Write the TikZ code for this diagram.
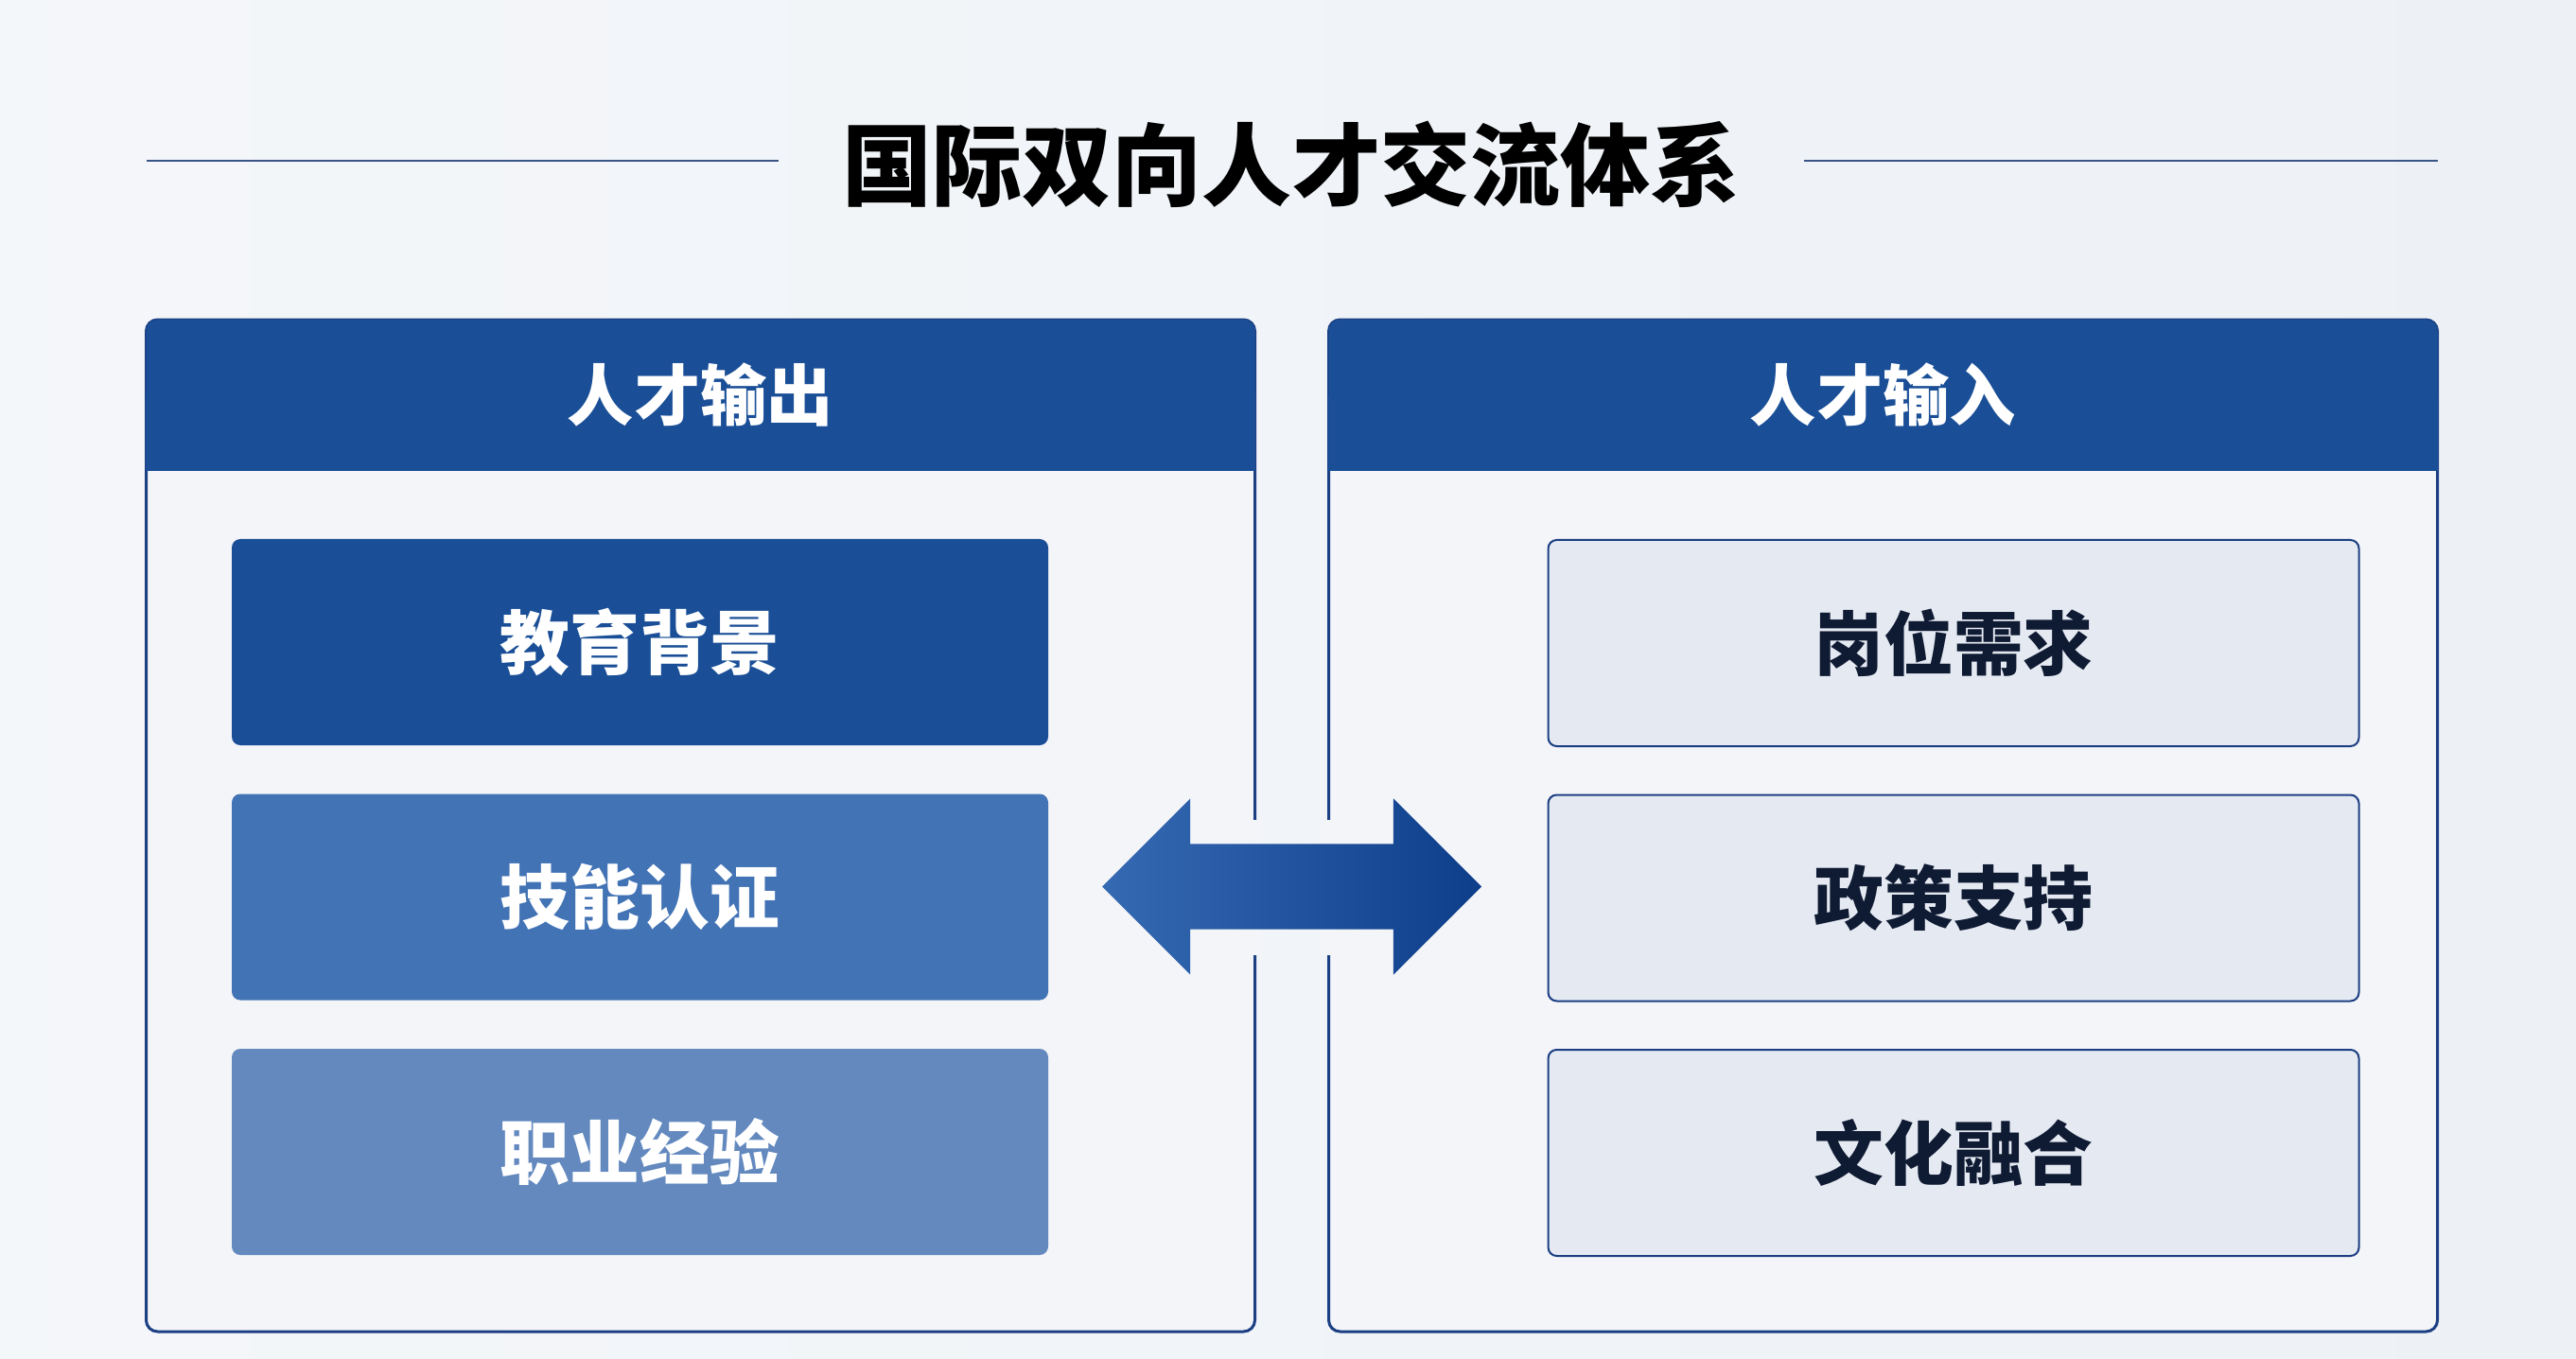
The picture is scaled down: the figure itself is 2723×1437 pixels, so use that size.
\documentclass[tikz,border=0pt]{standalone}
\usepackage{fontspec}
\setmainfont{Noto Sans CJK SC}
\usetikzlibrary{shapes.arrows}
\definecolor{bgc}{HTML}{EDF1F6}
\definecolor{card}{HTML}{F3F5F9}
\definecolor{navy}{HTML}{1A4F97}
\definecolor{edge}{HTML}{1C3F83}
\definecolor{midb}{HTML}{4273B5}
\definecolor{lightb}{HTML}{6389BF}
\definecolor{pale}{HTML}{E5EAF2}
\definecolor{ink}{HTML}{0F1A33}
\definecolor{rule}{HTML}{3A5587}
\definecolor{arrl}{HTML}{356AB2}
\definecolor{arrr}{HTML}{0E3E8A}

\begin{document}
\begin{tikzpicture}[x=0.1mm,y=-0.1mm,
    panel/.style={draw=edge,line width=0.3mm,fill=card,rounded corners=1.2mm,
      minimum width=117.2mm,minimum height=107mm,inner sep=0pt},
    headbar/.style={fill=navy,rounded corners=1.2mm,minimum width=117.2mm,
      minimum height=15.9mm,inner sep=0pt,text=white,
      font=\bfseries\fontsize{20}{24}\selectfont},
    outbox/.style={rounded corners=0.9mm,minimum width=86.3mm,minimum height=21.8mm,
      inner sep=0pt,text=white,font=\bfseries\fontsize{21}{25}\selectfont},
    inbox/.style={draw=edge,line width=0.2mm,fill=pale,rounded corners=0.9mm,
      minimum width=85.7mm,minimum height=21.8mm,inner sep=0pt,text=ink,
      font=\bfseries\fontsize{21}{25}\selectfont},
    ruleline/.style={draw=rule,line width=0.2mm}]
    % page and background
    \useasboundingbox (0,0) rectangle (2723,1437);
    \shade[left color=bgc!60!white,right color=bgc] (0,0) rectangle (2723,1437);
    % title with side rules
    \node[font=\bfseries\fontsize{27}{32}\selectfont,text=black] (title) at (1365,174)
      {国际双向人才交流体系};
    \draw[ruleline] (155,170) -- (823,170);
    \draw[ruleline] (1907,170) -- (2577,170);
    % two panels
    \node[panel] (outp) at (740.5,873) {};
    \node[panel] (inp) at (1990.5,873) {};
    \node[headbar] (outh) at (740.5,417.5) {};
    \fill[navy] (outh.west) rectangle (outh.south east);
    \node[headbar] (inh) at (1990.5,417.5) {};
    \fill[navy] (inh.west) rectangle (inh.south east);
    \node[text=white,font=\bfseries\fontsize{20}{24}\selectfont] at (outh) {人才输出};
    \node[text=white,font=\bfseries\fontsize{20}{24}\selectfont] at (inh) {人才输入};
    % output side
    \foreach \t/\c [count=\i] in {教育背景/navy,技能认证/midb,职业经验/lightb}
      \node[outbox,fill=\c] (out\i) at (676.5,{679+269.5*(\i-1)}) {\t};
    % input side
    \foreach \t [count=\i] in {岗位需求,政策支持,文化融合}
      \node[inbox] (in\i) at (2065,{680+269.5*(\i-1)}) {\t};
    % gaps in the panel borders behind the arrow
    \fill[card] (1318,867) rectangle (1334,1010);
    \fill[card] (1396,867) rectangle (1412,1010);
    % exchange arrow
    \node[double arrow,double arrow head extend=4.8mm,minimum width=18.5mm,
      minimum height=40.1mm,inner xsep=0pt,inner ysep=4.45mm,
      left color=arrl,right color=arrr] (link) at (1365.5,937.5) {};
  \end{tikzpicture}
\end{document}
